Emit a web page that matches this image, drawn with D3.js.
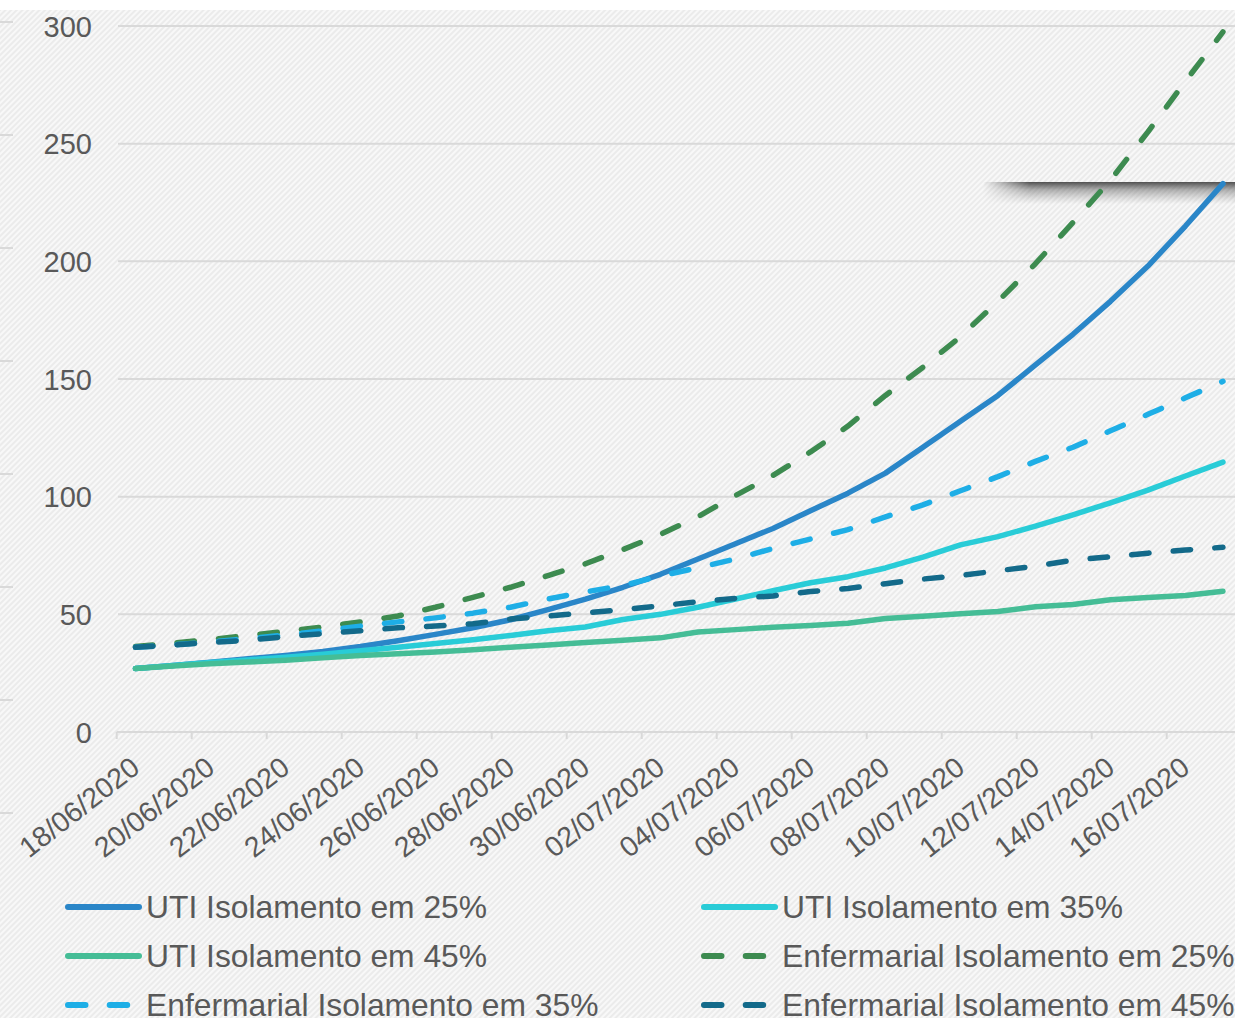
<!DOCTYPE html>
<html>
<head>
<meta charset="utf-8">
<script src="https://cdn.jsdelivr.net/npm/d3@7"></script>
<style>
html,body{margin:0;padding:0;background:#fff;}
svg{display:block;font-family:"Liberation Sans",Arial,sans-serif;}
</style>
</head>
<body>
<svg id="chart" width="1235" height="1018"></svg>
<script>
// ---- data ----
const categories = ["18/06/2020","19/06/2020","20/06/2020","21/06/2020","22/06/2020","23/06/2020","24/06/2020","25/06/2020","26/06/2020","27/06/2020","28/06/2020","29/06/2020","30/06/2020","01/07/2020","02/07/2020","03/07/2020","04/07/2020","05/07/2020","06/07/2020","07/07/2020","08/07/2020","09/07/2020","10/07/2020","11/07/2020","12/07/2020","13/07/2020","14/07/2020","15/07/2020","16/07/2020","17/07/2020"];
const tickLabels = ["18/06/2020","20/06/2020","22/06/2020","24/06/2020","26/06/2020","28/06/2020","30/06/2020","02/07/2020","04/07/2020","06/07/2020","08/07/2020","10/07/2020","12/07/2020","14/07/2020","16/07/2020"];
const yTicks = [0,50,100,150,200,250,300];

const uti25 = [27,28.3,29.6,31.1,32.5,34.2,36.3,38.8,41.5,44.3,47.7,52,56.5,61.5,67,73.5,80,86.5,94,101.5,110,121,132,143,156,169,183,198,215,233];
const uti35 = [27,28.3,29.5,30.6,31.8,33,34.5,36,37.6,39.2,41,43,44.6,47.8,50,53,56.5,60,63.4,66,69.7,74.3,79.5,83,87.5,92.3,97.4,102.8,108.8,114.7];
const uti45 = [27,28,29,29.7,30.5,31.5,32.5,33.3,34,35,36,37,38,39,40,42.5,43.5,44.5,45.3,46.2,48.2,49.2,50.2,51.2,53.2,54.2,56.2,57.2,58,59.8];
const enf25 = [36.3,37.8,39.3,41,42.8,44.6,46.8,49.3,53,57.2,61.5,66.5,71.5,77.5,84,91.5,100.5,109,119,130,143,155,168,183,199,216.5,234.5,255,276.5,297.5];
const enf35 = [36,37,38.3,39.7,41.2,43,45,46.8,48.5,50.5,53,56.5,59.5,62.3,66.3,69.8,73.5,78,82,86,91.4,96.5,102.5,108.5,115,121,128,135,142,149];
const enf45 = [36,37,38,39,40.5,41.8,43,44.3,45,46,48,49.3,50.6,52,53.6,55.4,56.8,57.8,59.7,61,63,65,66.5,68.5,70.5,73,74.5,76,77.3,78.5];

const seriesNames = ["UTI Isolamento em 25%","UTI Isolamento em 35%","UTI Isolamento em 45%","Enfermarial Isolamento em 25%","Enfermarial Isolamento em 35%","Enfermarial Isolamento em 45%"];
const seriesValues = [uti25, uti35, uti45, enf25, enf35, enf45];
const seriesColors = ["#2A86C8","#29CCD7","#45BD96","#3D8B50","#1EAEE6","#136A8A"];
const seriesDashed = [false,false,false,true,true,true];

// ---- drawing ----
const svg = d3.select("#chart");
const W = 1235, H = 1018;
const defs = svg.append("defs");

const pat = defs.append("pattern").attr("id","hatch").attr("patternUnits","userSpaceOnUse")
  .attr("width",4).attr("height",4).attr("patternTransform","rotate(45)");
pat.append("rect").attr("width",4).attr("height",4).attr("fill","#ebebeb");
pat.append("rect").attr("width",2).attr("height",4).attr("fill","#f8f8f8");

// shadow gradients
const vg = defs.append("linearGradient").attr("id","shadowV").attr("x1",0).attr("y1",0).attr("x2",0).attr("y2",1);
vg.append("stop").attr("offset","0").attr("stop-color","#333").attr("stop-opacity",0.85);
vg.append("stop").attr("offset","0.35").attr("stop-color","#555").attr("stop-opacity",0.45);
vg.append("stop").attr("offset","1").attr("stop-color","#888").attr("stop-opacity",0);
const hg = defs.append("linearGradient").attr("id","shadowH").attr("gradientUnits","userSpaceOnUse")
  .attr("x1",983).attr("y1",0).attr("x2",1030).attr("y2",0);
hg.append("stop").attr("offset","0").attr("stop-color","#fff").attr("stop-opacity",0);
hg.append("stop").attr("offset","1").attr("stop-color","#fff").attr("stop-opacity",1);
defs.append("mask").attr("id","shadowMask").attr("maskUnits","userSpaceOnUse")
  .attr("x",0).attr("y",0).attr("width",W).attr("height",H)
  .append("rect").attr("x",983).attr("y",170).attr("width",260).attr("height",50).attr("fill","url(#shadowH)");

svg.append("rect").attr("width",W).attr("height",H).attr("fill","#fff");
svg.append("rect").attr("x",0).attr("y",10).attr("width",W).attr("height",H-10).attr("fill","url(#hatch)");

// faint ticks at the left edge (from underlying frame)
const edgeTicks = [22,135,248,361,474,587,700,813];
svg.append("g").selectAll("line").data(edgeTicks).join("line")
  .attr("x1",0).attr("x2",13).attr("y1",d=>d).attr("y2",d=>d)
  .attr("stroke","#d9d9d9").attr("stroke-width",2);

const x = d3.scaleBand().domain(categories).range([116.7, 116.7 + 37.5*categories.length]).paddingInner(0).paddingOuter(0);
const xc = d => x(d) + x.bandwidth()/2;
const y = d3.scaleLinear().domain([0,300]).range([732,26]);

// gridlines
svg.append("g").selectAll("line").data(yTicks.filter(v=>v>0)).join("line")
  .attr("x1",118).attr("x2",W).attr("y1",d=>y(d)).attr("y2",d=>y(d))
  .attr("stroke","#d9d9d9").attr("stroke-width",2);

// y axis labels
const yAxis = d3.axisLeft(y).tickValues(yTicks).tickSize(0).tickPadding(0).tickFormat(d3.format("d"));
const gy = svg.append("g").attr("transform","translate(92,0)").call(yAxis);
gy.select(".domain").remove();
gy.selectAll("text").attr("fill","#595959").attr("font-size","29px")
  .attr("font-family","'Liberation Sans', Arial, sans-serif").attr("dy","0.35em");

// x axis
const tickPositions = d3.range(0, categories.length+1, 2).map(i => 116.7 + 37.5*i);
svg.append("line").attr("x1",116.7).attr("x2",W).attr("y1",732).attr("y2",732)
  .attr("stroke","#d9d9d9").attr("stroke-width",2);
svg.append("g").selectAll("line").data(tickPositions).join("line")
  .attr("x1",d=>d).attr("x2",d=>d).attr("y1",732).attr("y2",739)
  .attr("stroke","#d9d9d9").attr("stroke-width",2);
svg.append("g").selectAll("text").data(tickLabels).join("text")
  .attr("transform",d=>`translate(${xc(d)+6},771) rotate(-38)`)
  .attr("text-anchor","end").attr("fill","#595959").attr("font-size","28.5px")
  .text(d=>d);

// shadow artifact
svg.append("rect").attr("x",983).attr("y",182).attr("width",260).attr("height",22)
  .attr("fill","url(#shadowV)").attr("mask","url(#shadowMask)");

// lines
const line = d3.line().x((d,i)=>xc(categories[i])).y(d=>y(d));
const gl = svg.append("g");
seriesValues.forEach((vals,k)=>{
  gl.append("path").attr("d",line(vals)).attr("fill","none")
    .attr("stroke",seriesColors[k]).attr("stroke-width",5.5)
    .attr("stroke-linecap","round").attr("stroke-linejoin","round")
    .attr("stroke-dasharray",seriesDashed[k] ? "17.5 24.2" : null);
});

// legend
const legX = [68, 704], legY = [907, 956, 1005];
const lg = svg.append("g");
seriesNames.forEach((name,k)=>{
  const cx = legX[k%2], cy = legY[Math.floor(k/2)];
  lg.append("line").attr("x1",cx).attr("x2",cx+71).attr("y1",cy).attr("y2",cy)
    .attr("stroke",seriesColors[k]).attr("stroke-width",6).attr("stroke-linecap","round")
    .attr("stroke-dasharray",seriesDashed[k] ? "17.5 24.2" : null);
  lg.append("text").attr("x",cx+78).attr("y",cy+11).attr("fill","#595959")
    .attr("font-size","31.8px").text(name);
});
</script>
</body>
</html>
